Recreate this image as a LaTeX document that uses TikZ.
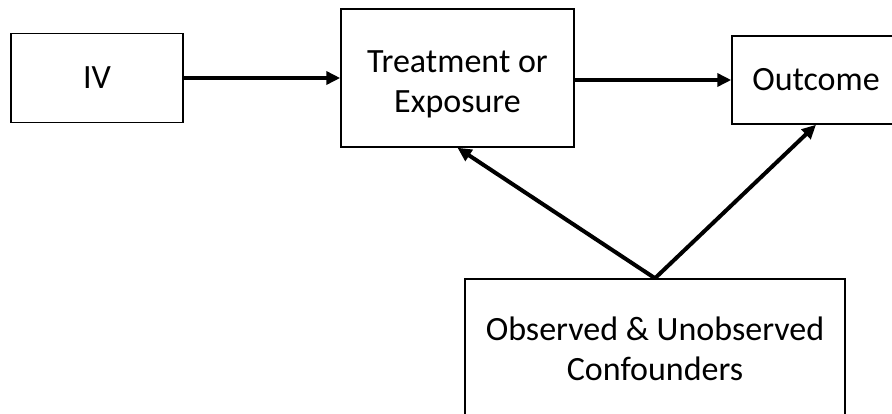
\documentclass[tikz,border=0pt]{standalone}
\usepackage{fontspec}
\setmainfont{Carlito}
\usetikzlibrary{arrows.meta,positioning}

\begin{document}
\begin{tikzpicture}[x=1pt,y=-1pt,
    every node/.style={font=\fontsize{34}{40}\selectfont},
    box/.style={draw,line width=1.5pt,align=center,inner sep=0pt},
    arr/.style={line width=4pt,-{Triangle[length=14pt,width=13pt]}}]
    \useasboundingbox (0,0) rectangle (892,413);
    \node[box,minimum width=172pt,minimum height=89pt] (iv) at (97,78) {IV};
    \node[box,minimum width=233pt,minimum height=138pt,text height=74pt] (treat) at (457.5,78) {Treatment or\\Exposure};
    \node[box,minimum width=168pt,minimum height=88pt] (outc) at (816,80) {Outcome};
    \node[box,minimum width=380pt,minimum height=140pt] (conf) at (655,349) {Observed \& Unobserved\\Confounders};
    \draw[arr] (iv.east) -- (treat.west);
    \draw[arr] (treat.east |- outc) -- (outc.west);
    \draw[arr] (conf.north) -- (treat.south);
    \draw[arr] (conf.north) -- (outc.south);
  \end{tikzpicture}
\end{document}
